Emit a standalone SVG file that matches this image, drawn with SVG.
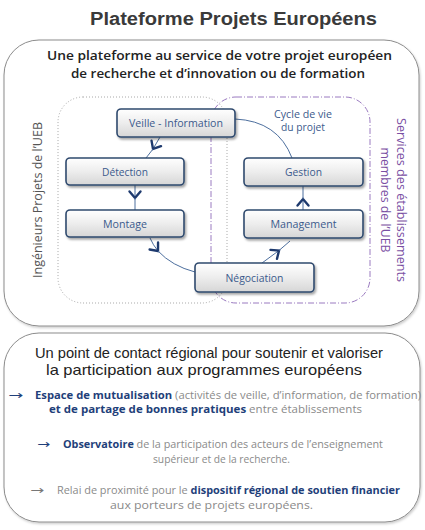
<svg xmlns="http://www.w3.org/2000/svg" width="425" height="530" viewBox="0 0 425 530">
<defs>
<style>
.title{font-family:"Liberation Sans",Arial,sans-serif;font-size:18px;font-weight:700;fill:#3a3a3a;}
.sub{font-family:"Open Sans","Liberation Sans",sans-serif;font-size:13px;font-weight:600;fill:#222;}
.head{font-family:"Liberation Sans",Arial,sans-serif;font-size:15px;fill:#222;}
.nt{font-family:"Open Sans","Liberation Sans",sans-serif;font-size:11.5px;fill:#3b5a8c;text-anchor:middle;}
.cyc{font-family:"Open Sans","Liberation Sans",sans-serif;font-size:10.5px;fill:#3b5a8c;text-anchor:middle;}
.vl{font-family:"Open Sans","Liberation Sans",sans-serif;font-size:12.5px;fill:#555;text-anchor:middle;}
.vr{font-family:"Open Sans","Liberation Sans",sans-serif;font-size:12.5px;fill:#7a4fa3;text-anchor:middle;}
.bt{font-family:"Open Sans","Liberation Sans",sans-serif;font-size:10px;fill:#8a8a8a;}
.b{font-weight:700;fill:#1f3f7a;}
.arr{font-family:"DejaVu Sans",sans-serif;font-size:12px;}
.node rect{fill:url(#ng);stroke:#2f4a6e;stroke-width:1.6;filter:url(#sh);}
.conn{fill:none;stroke:#4d6f9e;stroke-width:1;}
.outer{fill:#fff;stroke:#8c8c8c;stroke-width:1;filter:url(#sh2);}
</style>
<linearGradient id="ng" x1="0" y1="0" x2="0" y2="1">
<stop offset="0" stop-color="#ffffff"/>
<stop offset="0.5" stop-color="#ededed"/>
<stop offset="1" stop-color="#d6d6d6"/>
</linearGradient>
<filter id="sh" x="-10%" y="-20%" width="130%" height="160%">
<feDropShadow dx="1.5" dy="2" stdDeviation="1.2" flood-color="#000" flood-opacity="0.35"/>
</filter>
<filter id="sh2" x="-5%" y="-5%" width="110%" height="110%">
<feDropShadow dx="1" dy="1.5" stdDeviation="1.2" flood-color="#000" flood-opacity="0.2"/>
</filter>
<marker id="chev" markerUnits="userSpaceOnUse" markerWidth="20" markerHeight="20" viewBox="-10 -10 20 20" refX="0" refY="0" orient="auto" overflow="visible">
<path d="M-6.5,-5.5 L0,0 L-6.5,5.5" fill="none" stroke="#1e3a6e" stroke-width="2.4" stroke-linecap="round" stroke-linejoin="miter"/>
</marker>
</defs>

<text class="title" x="233.5" y="25" text-anchor="middle" textLength="287" lengthAdjust="spacingAndGlyphs">Plateforme Projets Européens</text>

<g id="top-panel">
<rect class="outer" x="4" y="40" width="415" height="286" rx="35" ry="35"/>
<text class="sub" x="219.5" y="60" text-anchor="middle" textLength="345" lengthAdjust="spacingAndGlyphs">Une plateforme au service de votre projet européen</text>
<text class="sub" x="218" y="78" text-anchor="middle" textLength="294" lengthAdjust="spacingAndGlyphs">de recherche et d’innovation  ou de formation</text>
</g>

<g id="group-ingenieurs">
<rect x="58" y="97" width="169" height="206" rx="25" ry="25" fill="none" stroke="#a8a8a8" stroke-width="1" stroke-dasharray="1,2"/>
<text class="vl" transform="translate(42,200) rotate(-90)" textLength="156" lengthAdjust="spacingAndGlyphs">Ingénieurs Projets de l’UEB</text>
</g>

<g id="group-services">
<rect x="211" y="97" width="159" height="206" rx="25" ry="25" fill="none" stroke="#9a7ac0" stroke-width="1" stroke-dasharray="6,2,1,2"/>
<text class="vr" transform="translate(397,200) rotate(90)" textLength="164" lengthAdjust="spacingAndGlyphs">Services des établissements</text>
<text class="vr" transform="translate(381,200) rotate(90)" textLength="105" lengthAdjust="spacingAndGlyphs">membres de l’UEB</text>
</g>

<g id="cycle-label">
<text class="cyc" x="303" y="118" textLength="58" lengthAdjust="spacingAndGlyphs">Cycle de vie</text>
<text class="cyc" x="303" y="131" textLength="44" lengthAdjust="spacingAndGlyphs">du projet</text>
</g>

<g id="connectors">
<path class="conn" d="M160,137 L153,149" marker-end="url(#chev)"/>
<path class="conn" d="M153,149 L146,158"/>
<path class="conn" d="M135,185 L135,198" marker-end="url(#chev)"/>
<path class="conn" d="M135,198 L135,210"/>
<path class="conn" d="M150,238 Q153,245 158,251" marker-end="url(#chev)"/>
<path class="conn" d="M158,251 Q172,266 195,272"/>
<path class="conn" d="M262,263 L279,250.5" marker-end="url(#chev)"/>
<path class="conn" d="M279,250.5 L290,241"/>
<path class="conn" d="M303,210 L303,199" marker-end="url(#chev)"/>
<path class="conn" d="M303,199 L303,186"/>
<path class="conn" d="M292,158 Q278,121 235,119"/>
</g>

<g id="node-veille" class="node">
<rect x="117" y="109" width="118" height="28" rx="4" ry="4"/>
<text class="nt" x="176" y="127" textLength="94" lengthAdjust="spacingAndGlyphs">Veille - Information</text>
</g>
<g id="node-detection" class="node">
<rect x="66" y="158" width="118" height="27" rx="4" ry="4"/>
<text class="nt" x="125" y="175.5" textLength="46" lengthAdjust="spacingAndGlyphs">Détection</text>
</g>
<g id="node-montage" class="node">
<rect x="66" y="210" width="118" height="27" rx="4" ry="4"/>
<text class="nt" x="125" y="227.5" textLength="44" lengthAdjust="spacingAndGlyphs">Montage</text>
</g>
<g id="node-negociation" class="node">
<rect x="195" y="263" width="119" height="29" rx="4" ry="4"/>
<text class="nt" x="254.5" y="281.5" textLength="58" lengthAdjust="spacingAndGlyphs">Négociation</text>
</g>
<g id="node-management" class="node">
<rect x="244" y="210" width="119" height="28" rx="4" ry="4"/>
<text class="nt" x="303.5" y="228" textLength="66" lengthAdjust="spacingAndGlyphs">Management</text>
</g>
<g id="node-gestion" class="node">
<rect x="244" y="158" width="119" height="28" rx="4" ry="4"/>
<text class="nt" x="303.5" y="176" textLength="37" lengthAdjust="spacingAndGlyphs">Gestion</text>
</g>

<g id="bottom-panel">
<rect class="outer" x="4" y="333" width="416" height="189" rx="35" ry="35"/>
<text class="head" x="209" y="358" text-anchor="middle" textLength="348" lengthAdjust="spacingAndGlyphs">Un point de contact régional pour soutenir et valoriser</text>
<text class="head" x="204" y="375" text-anchor="middle" textLength="316" lengthAdjust="spacingAndGlyphs">la participation aux programmes européens</text>

<text class="arr" x="8" y="399" fill="#1f3f7a" textLength="15" lengthAdjust="spacingAndGlyphs">→</text>
<text class="bt" x="35" y="399" textLength="386" lengthAdjust="spacingAndGlyphs"><tspan class="b">Espace de mutualisation</tspan> (activités de veille, d’information, de formation)</text>
<text class="bt" x="49" y="413" textLength="313" lengthAdjust="spacingAndGlyphs"><tspan class="b">et de partage de bonnes pratiques</tspan> entre établissements</text>

<text class="arr" x="37" y="448" fill="#1f3f7a" textLength="13" lengthAdjust="spacingAndGlyphs">→</text>
<text class="bt" x="63" y="448" textLength="320" lengthAdjust="spacingAndGlyphs"><tspan class="b">Observatoire</tspan> de la participation des acteurs de l’enseignement</text>
<text class="bt" x="221.5" y="463" text-anchor="middle" textLength="137" lengthAdjust="spacingAndGlyphs">supérieur et de la recherche.</text>

<text class="arr" x="30" y="494" fill="#777" textLength="14" lengthAdjust="spacingAndGlyphs">→</text>
<text class="bt" x="57" y="494" textLength="343" lengthAdjust="spacingAndGlyphs">Relai de proximité pour le <tspan class="b">dispositif régional de soutien financier</tspan></text>
<text class="bt" x="211.5" y="509" text-anchor="middle" textLength="203" lengthAdjust="spacingAndGlyphs">aux porteurs de projets européens.</text>
</g>
</svg>
